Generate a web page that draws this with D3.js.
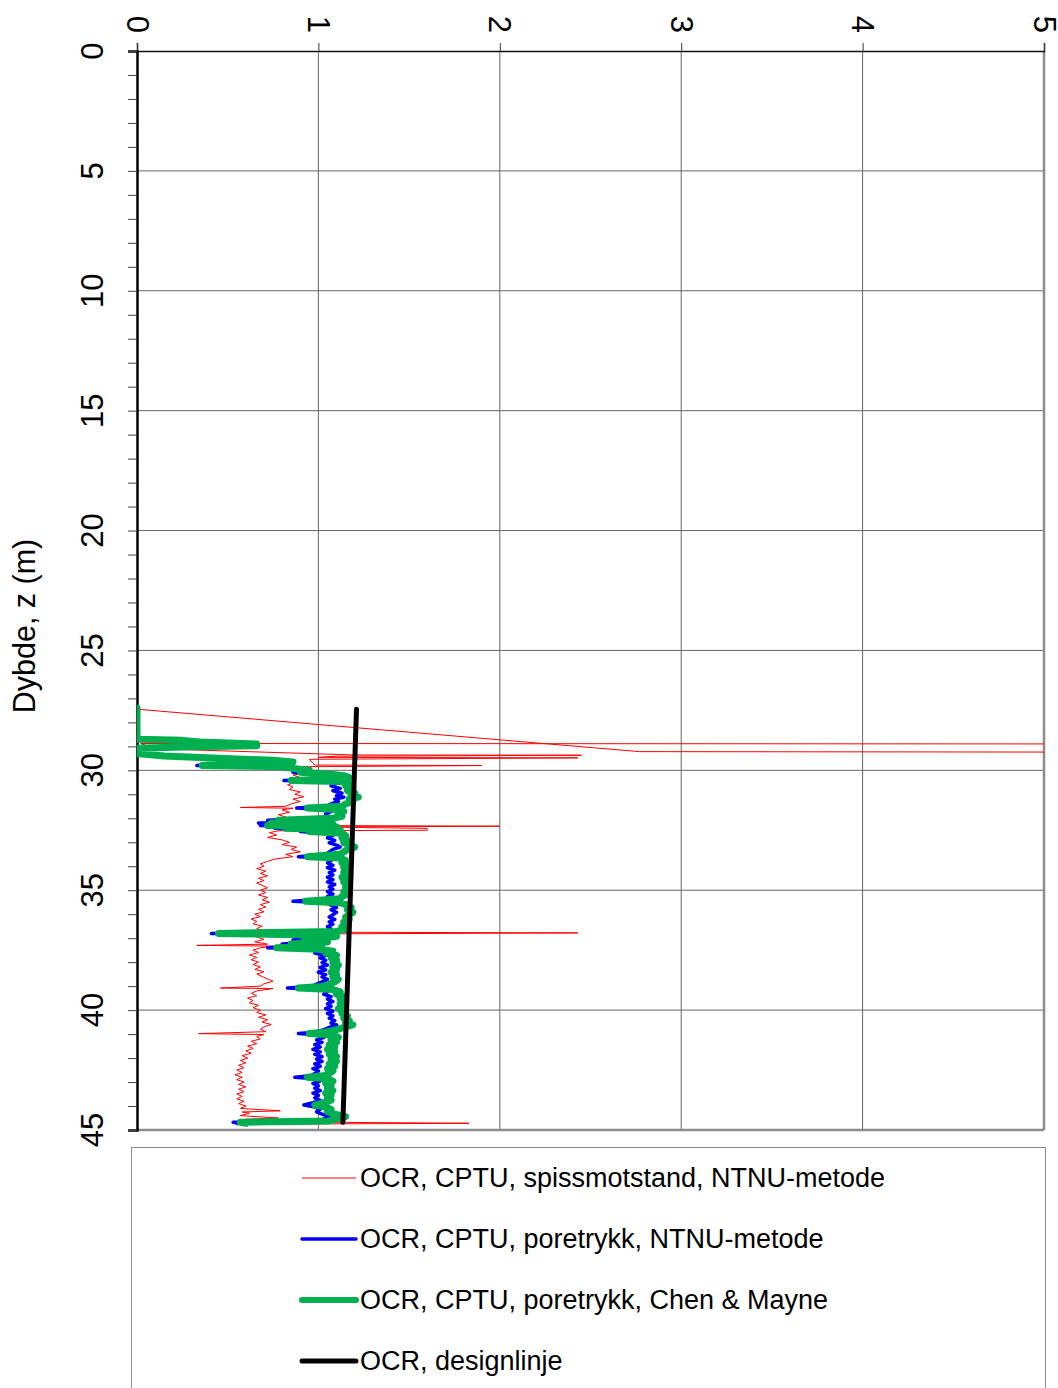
<!DOCTYPE html>
<html>
<head>
<meta charset="utf-8">
<script src="https://cdn.jsdelivr.net/npm/d3@7"></script>
<style>
  body { margin: 0; background: #fff; }
  svg { display: block; font-family: "Liberation Sans", Arial, Helvetica, sans-serif; }
</style>
</head>
<body>
<svg id="chart" width="1058" height="1388"></svg>
<script>
// tick labels
var ocrTicks = [0, 1, 2, 3, 4, 5];
var depthTicks = [0, 5, 10, 15, 20, 25, 30, 35, 40, 45];

// [depth (m), OCR]
var ocrSpiss = [
  [27.45,0.00],[29.22,2.77],[29.24,5.30],[29.02,5.30],[28.9,5.30],[28.88,0.02],[29.1,0.10],
  [29.36,1.20],[29.37,2.45],[29.41,1.10],[29.46,1.00],[29.48,2.43],[29.54,0.95],[29.78,0.98],
  [29.8,1.90],[29.85,0.90],[30.0,0.88],[30.1,0.92],[30.2,0.86],[30.3,0.90],[30.4,0.84],
  [30.5,0.88],[30.6,0.83],[30.7,0.86],[30.8,0.84],[30.9,0.90],[31.0,0.87],[31.1,0.92],
  [31.2,0.86],[31.3,0.90],[31.4,0.85],[31.5,0.82],[31.55,0.57],[31.58,0.86],[31.65,0.80],
  [31.75,0.84],[31.85,0.78],[31.95,0.82],[32.05,0.76],[32.15,0.80],[32.25,0.74],[32.3,0.90],
  [32.33,2.00],[32.36,0.95],[32.42,1.60],[32.5,1.60],[32.52,0.78],[32.6,0.73],[32.7,0.77],
  [32.8,0.72],[32.9,0.80],[33.0,0.84],[33.1,0.80],[33.2,0.88],[33.3,0.85],[33.4,0.90],
  [33.5,0.82],[33.6,0.86],[33.7,0.76],[33.8,0.72],[33.9,0.68],[34.0,0.70],[34.1,0.66],
  [34.2,0.71],[34.3,0.68],[34.4,0.72],[34.5,0.67],[34.6,0.70],[34.7,0.66],[34.8,0.69],
  [34.9,0.72],[35.0,0.68],[35.1,0.71],[35.2,0.67],[35.3,0.72],[35.4,0.69],[35.5,0.73],
  [35.6,0.68],[35.7,0.71],[35.8,0.67],[35.9,0.70],[36.0,0.65],[36.1,0.68],[36.2,0.63],
  [36.3,0.66],[36.4,0.64],[36.5,0.69],[36.6,0.66],[36.7,0.70],[36.75,0.90],[36.78,2.43],
  [36.82,1.00],[36.85,0.70],[36.95,0.66],[37.05,0.70],[37.15,0.65],[37.25,0.72],[37.3,0.33],
  [37.33,0.75],[37.4,0.68],[37.5,0.64],[37.6,0.67],[37.7,0.62],[37.8,0.66],[37.9,0.63],
  [38.0,0.67],[38.1,0.64],[38.2,0.68],[38.3,0.65],[38.4,0.70],[38.5,0.66],[38.6,0.69],
  [38.7,0.72],[38.8,0.75],[38.9,0.70],[39.0,0.68],[39.08,0.46],[39.1,0.75],[39.2,0.66],
  [39.3,0.63],[39.4,0.66],[39.5,0.61],[39.6,0.64],[39.7,0.62],[39.8,0.67],[39.9,0.64],
  [40.0,0.68],[40.1,0.66],[40.2,0.71],[40.3,0.67],[40.4,0.72],[40.5,0.69],[40.6,0.74],
  [40.7,0.70],[40.8,0.68],[40.9,0.71],[40.98,0.34],[41.02,0.70],[41.1,0.66],[41.2,0.68],
  [41.3,0.63],[41.4,0.66],[41.5,0.61],[41.6,0.64],[41.7,0.60],[41.8,0.63],[41.9,0.58],
  [42.0,0.61],[42.1,0.57],[42.2,0.60],[42.3,0.56],[42.4,0.59],[42.5,0.55],[42.6,0.58],
  [42.7,0.54],[42.8,0.58],[42.9,0.55],[43.0,0.59],[43.1,0.56],[43.2,0.60],[43.3,0.56],
  [43.4,0.59],[43.5,0.55],[43.6,0.58],[43.7,0.55],[43.8,0.59],[43.9,0.56],[44.0,0.60],
  [44.1,0.57],[44.2,0.79],[44.25,0.58],[44.3,0.62],[44.4,0.57],[44.5,0.78],[44.55,0.60],
  [44.65,0.55],[44.72,1.83],[44.76,0.56],[44.8,0.55]
];

var ocrPoreNTNU = [
  [27.4,0.00],[28.7,0.00],[28.74,0.23],[28.8,0.32],[28.9,0.62],[28.97,0.62],[29.02,0.28],
  [29.08,0.00],[29.3,0.00],[29.4,0.13],[29.5,0.42],[29.58,0.70],[29.65,0.80],[29.72,0.45],
  [29.8,0.33],[29.85,0.75],[29.92,0.82],[30.0,0.90],[30.08,0.86],[30.15,0.98],[30.22,1.06],
  [30.3,1.10],[30.38,0.96],[30.42,0.81],[30.47,1.05],[30.55,1.10],[30.65,1.07],[30.75,1.12],
  [30.85,1.08],[30.95,1.13],[31.05,1.10],[31.12,1.14],[31.2,1.09],[31.3,1.11],[31.4,1.07],
  [31.5,1.05],[31.57,0.88],[31.63,1.03],[31.72,1.07],[31.82,1.04],[31.92,1.06],[32.0,1.01],
  [32.08,0.72],[32.14,0.95],[32.2,0.67],[32.26,0.70],[32.3,0.68],[32.36,1.02],[32.42,0.76],
  [32.48,1.04],[32.55,0.90],[32.62,1.05],[32.72,1.08],[32.82,1.05],[32.92,1.09],[33.02,1.06],
  [33.12,1.10],[33.2,1.12],[33.3,1.08],[33.4,1.06],[33.5,1.04],[33.6,0.89],[33.66,1.04],
  [33.76,1.07],[33.86,1.05],[33.96,1.08],[34.06,1.05],[34.16,1.09],[34.26,1.06],[34.36,1.08],
  [34.46,1.05],[34.56,1.08],[34.66,1.05],[34.76,1.09],[34.86,1.06],[34.96,1.08],[35.06,1.05],
  [35.16,1.08],[35.26,1.05],[35.36,1.04],[35.46,0.86],[35.52,1.04],[35.62,1.07],[35.72,1.10],
  [35.82,1.07],[35.92,1.10],[36.02,1.08],[36.12,1.06],[36.22,1.09],[36.32,1.06],[36.42,1.08],
  [36.52,1.05],[36.62,1.07],[36.72,1.03],[36.8,0.41],[36.86,0.85],[36.92,1.03],[37.0,0.96],
  [37.08,0.86],[37.16,0.98],[37.24,0.80],[37.32,0.95],[37.4,0.72],[37.46,0.94],[37.54,1.02],
  [37.62,0.98],[37.72,1.04],[37.82,1.01],[37.92,1.04],[38.02,1.02],[38.12,1.05],[38.22,1.01],
  [38.32,1.04],[38.42,1.00],[38.52,1.04],[38.62,1.02],[38.72,1.05],[38.82,1.02],[38.92,0.99],
  [39.02,0.96],[39.08,0.83],[39.14,1.01],[39.24,1.05],[39.34,1.03],[39.44,1.07],[39.54,1.05],
  [39.64,1.08],[39.74,1.05],[39.84,1.07],[39.94,1.04],[40.04,1.08],[40.14,1.05],[40.24,1.08],
  [40.34,1.06],[40.44,1.09],[40.54,1.07],[40.62,1.10],[40.72,1.06],[40.82,1.03],[40.92,0.98],
  [40.98,0.89],[41.04,1.01],[41.14,1.03],[41.24,0.99],[41.34,1.02],[41.44,0.98],[41.54,1.01],
  [41.64,0.97],[41.74,1.01],[41.84,0.98],[41.94,1.02],[42.04,0.99],[42.14,1.02],[42.24,0.98],
  [42.34,1.01],[42.44,0.97],[42.54,1.00],[42.64,0.98],[42.74,0.96],[42.8,0.87],[42.86,0.98],
  [42.96,1.01],[43.06,0.97],[43.16,1.00],[43.26,0.98],[43.36,1.01],[43.46,0.97],[43.56,1.00],
  [43.66,0.98],[43.76,1.01],[43.86,0.97],[43.96,0.92],[44.04,0.98],[44.14,1.01],[44.24,0.99],
  [44.34,1.02],[44.44,1.06],[44.54,1.03],[44.62,0.99],[44.68,0.53],[44.72,0.56]
];

var ocrChenMayne = [
  [27.4,0.00],[28.7,0.00],[28.75,0.25],[28.82,0.35],[28.9,0.66],[28.97,0.66],[29.02,0.30],
  [29.08,0.00],[29.3,0.00],[29.4,0.15],[29.5,0.45],[29.58,0.75],[29.65,0.86],[29.72,0.50],
  [29.8,0.36],[29.85,0.80],[29.92,0.86],[30.0,0.95],[30.08,0.90],[30.15,1.05],[30.22,1.14],
  [30.3,1.17],[30.38,1.02],[30.42,0.85],[30.47,1.12],[30.55,1.17],[30.65,1.15],[30.75,1.19],
  [30.85,1.16],[30.95,1.20],[31.05,1.18],[31.12,1.22],[31.2,1.17],[31.3,1.19],[31.4,1.15],
  [31.5,1.13],[31.57,0.94],[31.63,1.10],[31.72,1.14],[31.82,1.11],[31.92,1.13],[32.0,1.08],
  [32.08,0.78],[32.14,1.02],[32.2,0.74],[32.26,1.08],[32.3,0.72],[32.36,1.10],[32.42,0.82],
  [32.48,1.12],[32.55,0.95],[32.62,1.13],[32.72,1.15],[32.82,1.13],[32.92,1.16],[33.02,1.14],
  [33.12,1.18],[33.2,1.20],[33.3,1.16],[33.4,1.14],[33.5,1.12],[33.6,0.94],[33.66,1.12],
  [33.76,1.15],[33.86,1.13],[33.96,1.16],[34.06,1.14],[34.16,1.17],[34.26,1.14],[34.36,1.16],
  [34.46,1.13],[34.56,1.16],[34.66,1.14],[34.76,1.17],[34.86,1.15],[34.96,1.17],[35.06,1.14],
  [35.16,1.16],[35.26,1.13],[35.36,1.12],[35.46,0.93],[35.52,1.12],[35.62,1.16],[35.72,1.18],
  [35.82,1.16],[35.92,1.19],[36.02,1.17],[36.12,1.15],[36.22,1.17],[36.32,1.14],[36.42,1.16],
  [36.52,1.13],[36.62,1.15],[36.72,1.10],[36.8,0.45],[36.86,0.90],[36.92,1.10],[37.0,1.02],
  [37.08,0.92],[37.16,1.05],[37.24,0.85],[37.32,1.02],[37.4,0.77],[37.46,1.00],[37.54,1.08],
  [37.62,1.04],[37.72,1.10],[37.82,1.07],[37.92,1.10],[38.02,1.08],[38.12,1.11],[38.22,1.08],
  [38.32,1.10],[38.42,1.07],[38.52,1.10],[38.62,1.08],[38.72,1.11],[38.82,1.09],[38.92,1.06],
  [39.02,1.02],[39.08,0.89],[39.14,1.08],[39.24,1.12],[39.34,1.10],[39.44,1.14],[39.54,1.12],
  [39.64,1.15],[39.74,1.12],[39.84,1.14],[39.94,1.11],[40.04,1.15],[40.14,1.13],[40.24,1.16],
  [40.34,1.14],[40.44,1.17],[40.54,1.15],[40.62,1.19],[40.72,1.14],[40.82,1.10],[40.92,1.04],
  [40.98,0.95],[41.04,1.08],[41.14,1.11],[41.24,1.07],[41.34,1.10],[41.44,1.06],[41.54,1.09],
  [41.64,1.05],[41.74,1.09],[41.84,1.06],[41.94,1.10],[42.04,1.07],[42.14,1.10],[42.24,1.06],
  [42.34,1.09],[42.44,1.05],[42.54,1.08],[42.64,1.06],[42.74,1.03],[42.8,0.94],[42.86,1.05],
  [42.96,1.08],[43.06,1.04],[43.16,1.07],[43.26,1.05],[43.36,1.08],[43.46,1.04],[43.56,1.07],
  [43.66,1.05],[43.76,1.07],[43.86,1.03],[43.96,0.98],[44.04,1.04],[44.14,1.07],[44.24,1.05],
  [44.34,1.09],[44.44,1.15],[44.54,1.10],[44.62,1.06],[44.68,0.57],[44.72,0.60]
];

var ocrDesign = [[27.45,1.21],[44.68,1.135]];

var seriesNames = [
  'OCR, CPTU, spissmotstand, NTNU-metode',
  'OCR, CPTU, poretrykk, NTNU-metode',
  'OCR, CPTU, poretrykk, Chen & Mayne',
  'OCR, designlinje'
];

var CHART = {
  init: function() {
    var svg = d3.select('#chart');
    var left = 137, top = 51, right = 1044, bottom = 1130;

    var x = d3.scaleLinear().domain([0, 5]).range([left, right]);
    var y = d3.scaleLinear().domain([0, 45]).range([top, bottom]);

    svg.append('defs').append('clipPath').attr('id', 'plotclip')
      .append('rect')
      .attr('x', left).attr('y', top)
      .attr('width', right - left).attr('height', bottom - top);

    // grid
    svg.append('g').selectAll('line')
      .data(ocrTicks.slice(1, -1))
      .enter().append('line')
      .attr('x1', function(d) { return x(d); }).attr('x2', function(d) { return x(d); })
      .attr('y1', top).attr('y2', bottom)
      .attr('stroke', '#666').attr('stroke-width', 1);

    svg.append('g').selectAll('line')
      .data(depthTicks.slice(1, -1))
      .enter().append('line')
      .attr('y1', function(d) { return y(d); }).attr('y2', function(d) { return y(d); })
      .attr('x1', left).attr('x2', right)
      .attr('stroke', '#666').attr('stroke-width', 1);

    // right + bottom frame
    svg.append('line').attr('x1', right).attr('x2', right).attr('y1', top).attr('y2', bottom)
      .attr('stroke', '#8c8c8c').attr('stroke-width', 2.5);
    svg.append('line').attr('x1', left).attr('x2', right).attr('y1', bottom).attr('y2', bottom)
      .attr('stroke', '#8c8c8c').attr('stroke-width', 2.5);

    // axes
    var xAxis = d3.axisTop(x).tickValues(ocrTicks).tickSize(8).tickFormat('');
    var gx = svg.append('g').attr('transform', 'translate(0,' + top + ')').call(xAxis);
    gx.select('.domain').attr('stroke', '#111').attr('stroke-width', 1.5);
    gx.selectAll('.tick line').attr('stroke', '#333');

    var yAxis = d3.axisLeft(y).tickValues(d3.range(0, 46)).tickSize(9).tickFormat('');
    var gy = svg.append('g').attr('transform', 'translate(' + left + ',0)').call(yAxis);
    gy.select('.domain').attr('stroke', '#000').attr('stroke-width', 2.5);
    gy.selectAll('.tick line').attr('stroke', '#444');

    // tick labels, rotated like the original
    svg.append('g').selectAll('text')
      .data(ocrTicks)
      .enter().append('text')
      .attr('transform', function(d) { return 'translate(' + x(d) + ',33) rotate(90)'; })
      .attr('text-anchor', 'end')
      .attr('dominant-baseline', 'central')
      .attr('font-size', 31)
      .text(function(d) { return d; });

    svg.append('g').selectAll('text')
      .data(depthTicks)
      .enter().append('text')
      .attr('transform', function(d) { return 'translate(92,' + y(d) + ') rotate(-90)'; })
      .attr('text-anchor', 'middle')
      .attr('dominant-baseline', 'central')
      .attr('font-size', 31)
      .text(function(d) { return d; });

    svg.append('text')
      .attr('transform', 'translate(24,626) rotate(-90)')
      .attr('text-anchor', 'middle')
      .attr('dominant-baseline', 'central')
      .attr('font-size', 30.5)
      .text('Dybde, z (m)');

    // series
    var line = d3.line()
      .x(function(d) { return x(d[1]); })
      .y(function(d) { return y(d[0]); });

    var styles = [
      { data: ocrSpiss, color: '#ff0000', width: 1 },
      { data: ocrPoreNTNU, color: '#0000ff', width: 3.5 },
      { data: ocrChenMayne, color: '#00b050', width: 7 },
      { data: ocrDesign, color: '#000000', width: 5 }
    ];

    var plot = svg.append('g').attr('clip-path', 'url(#plotclip)');
    plot.selectAll('path')
      .data(styles)
      .enter().append('path')
      .attr('d', function(d) { return line(d.data); })
      .attr('fill', 'none')
      .attr('stroke', function(d) { return d.color; })
      .attr('stroke-width', function(d) { return d.width; })
      .attr('stroke-linejoin', 'round')
      .attr('stroke-linecap', 'round');

    // legend
    svg.append('rect')
      .attr('x', 131.5).attr('y', 1147.5)
      .attr('width', 914).attr('height', 260)
      .attr('fill', 'none').attr('stroke', '#8c8c8c').attr('stroke-width', 1);

    var leg = svg.append('g').selectAll('g')
      .data(styles)
      .enter().append('g')
      .attr('transform', function(d, i) { return 'translate(0,' + (1178 + i * 61) + ')'; });

    leg.append('line')
      .attr('x1', 302).attr('x2', 356)
      .attr('stroke', function(d) { return d.color; })
      .attr('stroke-width', function(d) { return d.width === 7 ? 6 : d.width; })
      .attr('stroke-linecap', function(d) { return d.width > 3 ? 'round' : 'butt'; });

    leg.append('text')
      .attr('x', 360)
      .attr('dominant-baseline', 'central')
      .attr('font-size', 27)
      .text(function(d, i) { return seriesNames[i]; });
  }
};

CHART.init();
</script>
</body>
</html>
